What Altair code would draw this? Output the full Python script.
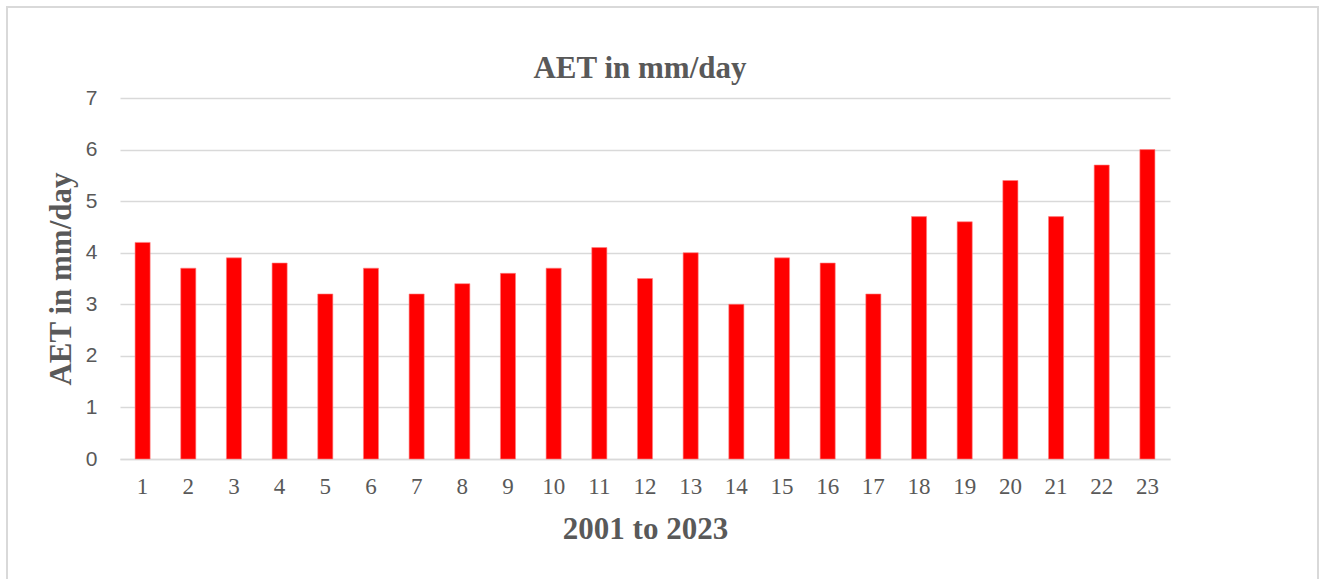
import altair as alt
import pandas as pd

# Annual actual evapotranspiration, years 2001-2023 indexed 1..23
years = list(range(1, 24))
aet = [4.2, 3.7, 3.9, 3.8, 3.2, 3.7, 3.2, 3.4, 3.6, 3.7, 4.1, 3.5,
       4.0, 3.0, 3.9, 3.8, 3.2, 4.7, 4.6, 5.4, 4.7, 5.7, 6.0]
chart_title = "AET in mm/day"

df = pd.DataFrame({"year": years, "aet": aet})

GRAY = "#595959"
GRID = "#d9d9d9"
SERIF = "Liberation Serif"
SANS = "Liberation Sans"

W, H = 1050, 361

bars = alt.Chart(df).mark_bar(color="#ff0000", stroke="#ff8080", strokeWidth=0.6).encode(
    x=alt.X(
        "year:O",
        scale=alt.Scale(paddingInner=0.67, paddingOuter=0.33),
        axis=alt.Axis(
            title="2001 to 2023",
            labelAngle=0,
            labelFont=SERIF,
            labelFontSize=23,
            labelColor=GRAY,
            labelPadding=16,
            labelBaseline="top",
            ticks=False,
            domain=True,
            domainColor=GRID,
            domainWidth=1.5,
            titleFont=SERIF,
            titleFontSize=31,
            titleFontWeight="bold",
            titleColor=GRAY,
            titleBaseline="alphabetic",
            titleY=79,
            grid=False,
        ),
    ),
    y=alt.Y(
        "aet:Q",
        scale=alt.Scale(domain=[0, 7], nice=False),
        axis=alt.Axis(
            title="AET in mm/day",
            values=[0, 1, 2, 3, 4, 5, 6, 7],
            labelFont=SANS,
            labelFontSize=21,
            labelColor=GRAY,
            labelPadding=23,
            ticks=False,
            domain=False,
            gridColor=GRID,
            gridWidth=1.5,
            titleFont=SERIF,
            titleFontSize=31,
            titleFontWeight="bold",
            titleColor=GRAY,
            titleAngle=-90,
            titleBaseline="middle",
            titleX=-59,
            titleY=H / 2,
        ),
    ),
)

# light frame around the whole chart area
frame = alt.Chart(df).mark_rect(
    fillOpacity=0, stroke=GRID, strokeWidth=1.8
).encode(
    x=alt.value(-113), x2=alt.value(1198),
    y=alt.value(-91), y2=alt.value(H + 140),
)

# chart heading drawn as a text mark so it sits just above the plot
heading = alt.Chart(pd.DataFrame({"t": [chart_title]})).mark_text(
    font=SERIF, fontSize=31, fontWeight="bold", color=GRAY,
    align="center", baseline="alphabetic",
).encode(
    text="t:N",
    x=alt.value(W / 2 - 5),
    y=alt.value(-20),
)

chart = alt.layer(frame, bars, heading).properties(
    width=W,
    height=H,
    autosize=alt.AutoSizeParams(type="none"),
    padding={"left": 120, "top": 98, "right": 151, "bottom": 120},
).configure(background="white").configure_view(stroke=None)

chart.save("out.html", embed_options={"renderer": "svg", "actions": False})
